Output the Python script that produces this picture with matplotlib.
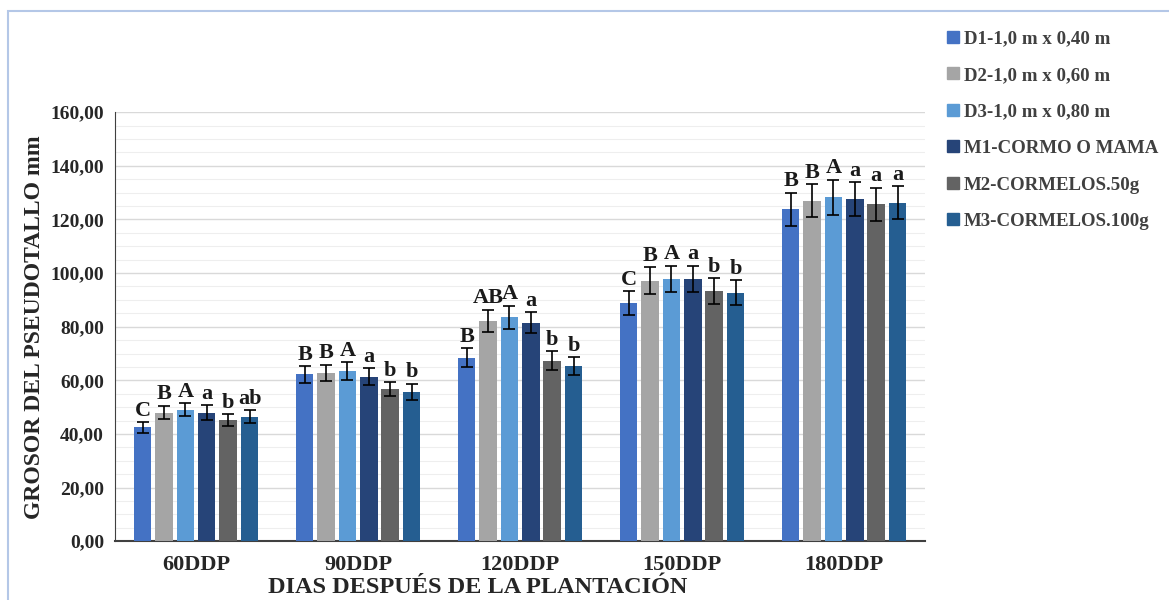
import numpy as np
import matplotlib.pyplot as plt
from matplotlib.lines import Line2D
from matplotlib.patches import Rectangle
from matplotlib.ticker import MultipleLocator, FuncFormatter

plt.rcParams['font.family'] = ['Liberation Serif', 'DejaVu Serif']
plt.rcParams['font.weight'] = 'bold'

dias = ['60DDP', '90DDP', '120DDP', '150DDP', '180DDP']
series = ['D1-1,0 m x 0,40 m', 'D2-1,0 m x 0,60 m', 'D3-1,0 m x 0,80 m',
          'M1-CORMO O MAMA', 'M2-CORMELOS.50g', 'M3-CORMELOS.100g']
colores = ['#4472C4', '#A5A5A5', '#5B9BD5', '#264478', '#636363', '#255E91']

# promedios por dosis / material (filas) y fecha (columnas)
d1 = [42.5, 62.2, 68.5, 88.7, 123.8]
d2 = [48.0, 62.9, 82.2, 97.1, 127.0]
d3 = [49.1, 63.4, 83.5, 97.8, 128.2]
m1 = [48.0, 61.3, 81.5, 97.8, 127.6]
m2 = [45.1, 56.8, 67.3, 93.3, 125.6]
m3 = [46.4, 55.7, 65.3, 92.7, 126.2]

# error estandar
e_d1 = [2.0, 3.2, 3.6, 4.5, 6.2]
e_d2 = [2.6, 3.0, 4.2, 5.0, 6.2]
e_d3 = [2.5, 3.3, 4.3, 5.0, 6.6]
e_m1 = [2.7, 3.2, 4.0, 5.0, 6.3]
e_m2 = [2.2, 2.5, 3.6, 4.9, 6.2]
e_m3 = [2.4, 3.0, 3.3, 4.7, 6.2]

# letras de significancia (Tukey)
l_d1 = ['C', 'B', 'B', 'C', 'B']
l_d2 = ['B', 'B', 'AB', 'B', 'B']
l_d3 = ['A', 'A', 'A', 'A', 'A']
l_m1 = ['a', 'a', 'a', 'a', 'a']
l_m2 = ['b', 'b', 'b', 'b', 'a']
l_m3 = ['ab', 'b', 'b', 'b', 'a']

valores = [d1, d2, d3, m1, m2, m3]
errores = [e_d1, e_d2, e_d3, e_m1, e_m2, e_m3]
letras = [l_d1, l_d2, l_d3, l_m1, l_m2, l_m3]

fig = plt.figure(figsize=(11.69, 6.0), dpi=100)
ax = fig.add_axes([0.0984, 0.098, 0.693, 0.715])

x = np.arange(len(dias))
paso = 0.132
ancho = 0.108
for i in range(len(series)):
    pos = x + (i - 2.5) * paso
    ax.bar(pos, valores[i], ancho, color=colores[i], zorder=3, label=series[i])
    ax.errorbar(pos, valores[i], yerr=errores[i], fmt='none', ecolor='black',
                elinewidth=1.2, capsize=4, capthick=1.2, zorder=4)
    for xp, v, e, t in zip(pos, valores[i], errores[i], letras[i]):
        ax.text(xp, v + e + 0.5, t, ha='center', va='bottom', fontsize=16,
                fontweight='bold', color='#1a1a1a', zorder=5)

ax.set_xlim(-0.5, 4.5)
ax.set_ylim(0, 160)
ax.yaxis.set_major_locator(MultipleLocator(20))
ax.yaxis.set_minor_locator(MultipleLocator(5))
ax.yaxis.set_major_formatter(FuncFormatter(lambda v, p: f"{v:.2f}".replace('.', ',')))
ax.grid(axis='y', which='major', color='#d9d9d9', linewidth=1.0, zorder=0)
ax.grid(axis='y', which='minor', color='#eeeeee', linewidth=0.8, zorder=0)
ax.set_axisbelow(True)

ax.set_xticks(x)
ax.set_xticklabels(dias)
ax.tick_params(axis='both', which='both', length=0, colors='#262626')
ax.tick_params(axis='y', labelsize=14, pad=8)
ax.tick_params(axis='x', labelsize=16, pad=10)
for lab in ax.get_xticklabels() + ax.get_yticklabels():
    lab.set_fontweight('bold')

for lado in ['top', 'right']:
    ax.spines[lado].set_visible(False)
ax.spines['left'].set_color('#404040')
ax.spines['bottom'].set_color('#404040')
ax.spines['bottom'].set_linewidth(1.5)

ax.set_ylabel('GROSOR DEL PSEUDOTALLO mm', fontsize=17, fontweight='bold',
              color='#262626', labelpad=4)
ax.set_xlabel('DIAS DESPUÉS DE LA PLANTACIÓN', fontsize=17.5, fontweight='bold',
              color='#262626')
ax.xaxis.set_label_coords(0.448, -0.084)

handles = [Line2D([], [], marker='s', linestyle='none', markersize=8,
                  markerfacecolor=c, markeredgecolor=c) for c in colores]
leg = fig.legend(handles, series, loc='upper left', bbox_to_anchor=(0.802, 0.962),
                 frameon=False, fontsize=13.6, labelspacing=1.02, handlelength=0.8,
                 handletextpad=0.2, borderaxespad=0)
for t in leg.get_texts():
    t.set_color('#404040')
    t.set_fontweight('bold')

# borde exterior del grafico
fig.patches.append(Rectangle((0.007, -0.01), 1.1, 0.992, transform=fig.transFigure,
                             fill=False, edgecolor='#b4c7e7', linewidth=1.5))

fig.savefig('out.png', dpi=100)
